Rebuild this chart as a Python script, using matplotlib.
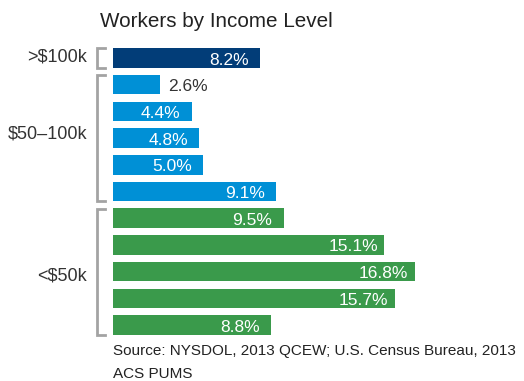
import matplotlib
matplotlib.use("Agg")
import matplotlib.pyplot as plt

plt.rcParams['font.family'] = ['Liberation Sans', 'DejaVu Sans']

# Share of workers (%) per income bracket, top to bottom
groups = [">$100k", "$50–100k", "<$50k"]
group_sizes = [1, 5, 5]
values = [8.2, 2.6, 4.4, 4.8, 5.0, 9.1, 9.5, 15.1, 16.8, 15.7, 8.8]
labels = ["8.2%", "2.6%", "4.4%", "4.8%", "5.0%", "9.1%",
          "9.5%", "15.1%", "16.8%", "15.7%", "8.8%"]
group_colors = ["#023d78", "#0090d6", "#3a9a4b"]

title = "Workers by Income Level"
source_lines = ["Source: NYSDOL, 2013 QCEW; U.S. Census Bureau, 2013",
                "ACS PUMS"]

W, H = 524, 381
fig = plt.figure(figsize=(W / 100, H / 100), dpi=100)

# axes placed in pixel terms
ax_left, ax_right = 113, 510
ax_top, ax_bottom = 40, 345
ax = fig.add_axes([ax_left / W, 1 - ax_bottom / H,
                   (ax_right - ax_left) / W, (ax_bottom - ax_top) / H])
px_per_unit = 17.95
row_px = 26.7
ax.set_xlim(0, (ax_right - ax_left) / px_per_unit)
ax.set_ylim((ax_bottom - 58) / row_px, (ax_top - 58) / row_px)
ax.axis("off")

colors = []
for c, n in zip(group_colors, group_sizes):
    colors += [c] * n

ypos = list(range(len(values)))
ax.barh(ypos, values, height=0.73, color=colors)

for y, v, lab in zip(ypos, values, labels):
    if v < 4:
        ax.text(v + 0.45, y + 0.02, lab, ha="left", va="center_baseline",
                fontsize=12.5, color="#333333")
    else:
        ax.text(v - 1.73, y + 0.02, lab, ha="center", va="center_baseline",
                fontsize=12.5, color="white")

# group brackets and labels
bx = -0.89
tick = 0.45
label_shift = [-0.1, -0.24, 0.08]  # vertical nudge of each group label (rows)
start = 0
for g, n, dy in zip(groups, group_sizes, label_shift):
    top = start - 0.36
    bot = start + n - 1 + 0.36
    ax.plot([bx + tick, bx, bx, bx + tick], [top, top, bot, bot],
            color="#a3a3a3", lw=2, clip_on=False, solid_joinstyle="miter")
    mid = start + (n - 1) / 2 + dy
    ax.text(bx - 0.55, mid, g, ha="right", va="center_baseline",
            fontsize=13, color="#333333")
    start += n

fig.text(100 / W, 1 - 27 / H, title, ha="left", va="baseline",
         fontsize=14.9, color="#222222")
fig.text(113 / W, 1 - 355.5 / H, source_lines[0], ha="left", va="baseline",
         fontsize=11, color="#222222")
fig.text(113 / W, 1 - 378.5 / H, source_lines[1], ha="left", va="baseline",
         fontsize=11, color="#222222")

fig.savefig("out.png", dpi=100)
